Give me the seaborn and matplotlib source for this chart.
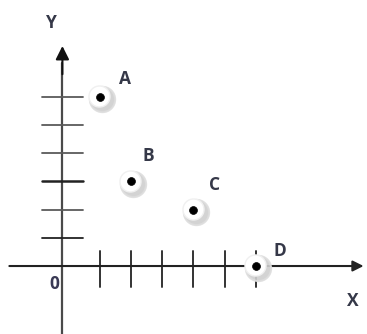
import matplotlib
matplotlib.use('Agg')
import matplotlib.pyplot as plt
import seaborn as sns
import pandas as pd

# ── Data ──────────────────────────────────────────────────────────────────────
point_names = ['A', 'B', 'C', 'D']
point_x     = [1, 2, 4, 6]
point_y     = [6, 3, 2, 0]
x_ticks     = [1, 2, 3, 4, 5, 6]
y_ticks     = [1, 2, 3, 4, 5, 6]

df = pd.DataFrame({'name': point_names, 'x': point_x, 'y': point_y})

# ── Style ─────────────────────────────────────────────────────────────────────
sns.set_style('white')
plt.rcParams['font.family'] = ['Open Sans', 'DejaVu Sans']
AXIS_COL = '#4a4a4a'
TEXT_COL = '#353848'
Y_AXIS_X = -0.2          # hand-drawn y axis sits a bit left of the tick grid
HALF = 0.65              # half length of tick marks
FS = 12.5

fig = plt.figure(figsize=(3.67, 3.34), dpi=100)
ax = fig.add_axes([0, 0, 1, 1])
ax.set_xlim(-2.2, 9.56)
ax.set_ylim(-2.41, 9.43)
ax.axis('off')

# axes with arrow heads
ax.annotate('', xy=(9.45, 0), xytext=(-1.9, 0),
            arrowprops=dict(arrowstyle='-|>', color='#222222', lw=1.5,
                            mutation_scale=16, shrinkA=0, shrinkB=0))
ax.plot([Y_AXIS_X, Y_AXIS_X], [-2.5, 7.2], color=AXIS_COL, lw=1.6)
ax.annotate('', xy=(Y_AXIS_X, 7.8), xytext=(Y_AXIS_X, 6.8),
            arrowprops=dict(arrowstyle='-|>', color='#111111', lw=1.5,
                            mutation_scale=20, shrinkA=0, shrinkB=0))

# tick marks
for t in y_ticks:
    lw = 1.8 if t == 3 else 1.3
    col = '#222222' if t in (1, 3) else '#5a5a5a'
    ax.plot([Y_AXIS_X - HALF, Y_AXIS_X + HALF], [t, t], color=col, lw=lw)
for t in x_ticks:
    ax.plot([t, t], [-HALF - 0.1, HALF - 0.1], color='#333333', lw=1.4)

# points: soft shadow, white disc, black dot
shadow = df.copy()
shadow['x'] = shadow['x'] + 0.07
shadow['y'] = shadow['y'] - 0.08
sns.scatterplot(data=shadow, x='x', y='y', ax=ax, s=330, color='#cfcfcf',
                edgecolor='#dddddd', linewidth=1.5, alpha=0.9, zorder=3,
                legend=False)
disc = df.copy()
disc['x'] = disc['x'] - 0.02
disc['y'] = disc['y'] + 0.02
sns.scatterplot(data=disc, x='x', y='y', ax=ax, s=230, color='white',
                edgecolor='#f0f0f0', linewidth=1.0, zorder=4, legend=False)
sns.scatterplot(data=df, x='x', y='y', ax=ax, s=32, color='black',
                edgecolor='black', linewidth=0.5, zorder=5, legend=False)

# point labels
offsets = [(14, 13), (8, 18), (11, 18), (13, 11)]
for (_, r), off in zip(df.iterrows(), offsets):
    ax.annotate(r['name'], (r['x'], r['y']), xytext=off,
                textcoords='offset points', ha='left', va='center',
                fontsize=FS, fontweight='bold', color=TEXT_COL)

ax.text(-0.55, 8.6, 'Y', fontsize=FS, fontweight='bold', color=TEXT_COL,
        ha='center', va='center')
ax.text(9.1, -1.25, 'X', fontsize=FS, fontweight='bold', color=TEXT_COL,
        ha='center', va='center')
ax.text(-0.45, -0.65, '0', fontsize=FS, fontweight='bold',
        color='#3a3a55', ha='center', va='center')

fig.savefig('out.png', dpi=100, facecolor='white')
